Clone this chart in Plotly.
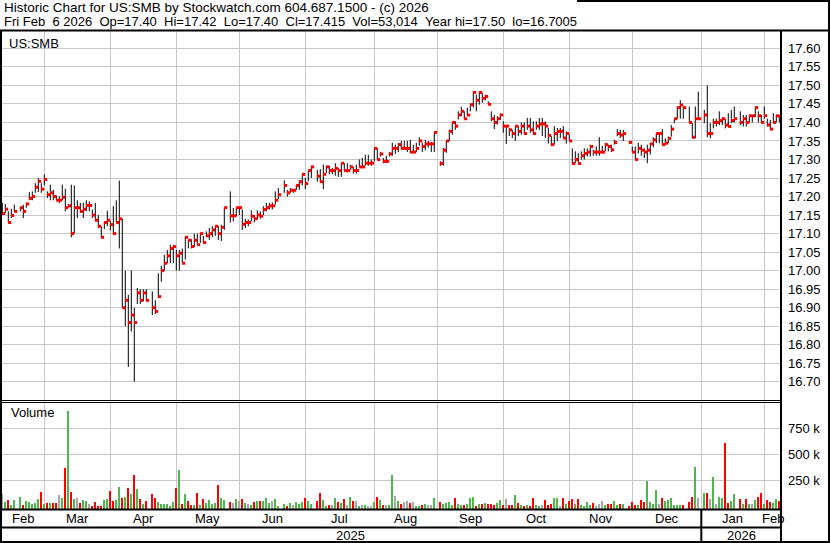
import pandas as pd
import plotly.graph_objects as go

W, H = 830, 543

# ---- data ----
first_day = '2025-02-10'
last_day = '2026-02-06'
holidays = ['2025-02-17', '2025-04-18', '2025-05-26', '2025-06-19', '2025-07-04',
            '2025-09-01', '2025-11-27', '2025-12-25', '2026-01-01', '2026-01-19']

highs = [
    # Feb 2025
    17.183, 17.180, 17.160, 17.167, 17.178, 17.173, 17.178, 17.184, 17.212, 17.214, 17.236, 17.250, 17.236, 17.260,
    # Mar
    17.214, 17.232, 17.218, 17.203, 17.200, 17.232, 17.221, 17.180, 17.232, 17.230, 17.190, 17.183, 17.183, 17.190,
    17.187, 17.165, 17.183, 17.150, 17.120, 17.133, 17.162,
    # Apr
    17.133, 17.174, 17.190, 17.243, 17.140, 17.000, 16.935, 17.000, 16.900, 16.953, 16.950, 16.950, 16.950, 16.944,
    16.920, 16.993, 17.013, 17.043, 17.056, 17.070, 17.070,
    # May
    17.056, 17.056, 17.060, 17.093, 17.083, 17.085, 17.100, 17.100, 17.100, 17.094, 17.106, 17.115, 17.120, 17.120,
    17.120, 17.124, 17.170, 17.214, 17.169, 17.170, 17.170,
    # Jun
    17.165, 17.140, 17.138, 17.163, 17.150, 17.163, 17.160, 17.174, 17.183, 17.183, 17.184, 17.214, 17.223, 17.244,
    17.218, 17.223, 17.220, 17.232, 17.245, 17.262,
    # Jul
    17.250, 17.270, 17.283, 17.272, 17.274, 17.286, 17.283, 17.283, 17.277, 17.290, 17.277, 17.290, 17.290, 17.290,
    17.286, 17.280, 17.286, 17.300, 17.304, 17.313, 17.313, 17.300,
    # Aug
    17.330, 17.330, 17.320, 17.304, 17.310, 17.320, 17.345, 17.340, 17.345, 17.350, 17.350, 17.350, 17.353, 17.340,
    17.345, 17.360, 17.345, 17.353, 17.350, 17.348, 17.375,
    # Sep
    17.295, 17.331, 17.350, 17.380, 17.400, 17.403, 17.430, 17.442, 17.430, 17.440, 17.450, 17.484, 17.475, 17.484,
    17.480, 17.475, 17.457, 17.430, 17.420, 17.417, 17.424,
    # Oct
    17.403, 17.390, 17.385, 17.380, 17.390, 17.390, 17.400, 17.400, 17.412, 17.412, 17.403, 17.403, 17.412, 17.412,
    17.403, 17.385, 17.363, 17.390, 17.385, 17.385, 17.390, 17.376, 17.367,
    # Nov
    17.330, 17.322, 17.317, 17.322, 17.330, 17.330, 17.340, 17.326, 17.335, 17.360, 17.337, 17.345, 17.340, 17.340,
    17.353, 17.382, 17.380, 17.380, 17.350,
    # Dec
    17.335, 17.335, 17.345, 17.340, 17.330, 17.340, 17.345, 17.360, 17.371, 17.371, 17.382, 17.357, 17.362, 17.393,
    17.410, 17.443, 17.460, 17.443, 17.443, 17.398, 17.443, 17.483,
    # Jan 2026
    17.434, 17.500, 17.398, 17.410, 17.410, 17.430, 17.414, 17.410, 17.425, 17.434, 17.443, 17.430, 17.420, 17.420,
    17.420, 17.420, 17.443, 17.430, 17.420, 17.443,
    # Feb
    17.410, 17.407, 17.425, 17.420, 17.420,
]

lows = [
    17.151, 17.156, 17.130, 17.142, 17.158, 17.160, 17.142, 17.170, 17.190, 17.190, 17.210, 17.212, 17.210, 17.230,
    17.196, 17.190, 17.190, 17.190, 17.183, 17.190, 17.160, 17.170, 17.090, 17.100, 17.142, 17.156, 17.142, 17.160,
    17.160, 17.142, 17.133, 17.115, 17.088, 17.112, 17.120,
    17.109, 17.097, 17.130, 17.060, 16.900, 16.850, 16.740, 16.836, 16.7005, 16.910, 16.910, 16.917, 16.917, 16.880,
    16.883, 16.926, 16.970, 17.000, 17.020, 17.020, 17.020,
    17.000, 17.000, 17.020, 17.030, 17.060, 17.060, 17.064, 17.070, 17.075, 17.075, 17.090, 17.083, 17.090, 17.094,
    17.083, 17.080, 17.110, 17.130, 17.133, 17.146, 17.150,
    17.110, 17.115, 17.120, 17.133, 17.130, 17.138, 17.140, 17.150, 17.160, 17.165, 17.165, 17.178, 17.193, 17.210,
    17.200, 17.210, 17.210, 17.218, 17.218, 17.230,
    17.220, 17.241, 17.250, 17.240, 17.237, 17.220, 17.263, 17.260, 17.260, 17.256, 17.253, 17.253, 17.268, 17.265,
    17.272, 17.262, 17.262, 17.280, 17.280, 17.283, 17.283, 17.283,
    17.295, 17.300, 17.308, 17.290, 17.290, 17.308, 17.310, 17.315, 17.320, 17.327, 17.330, 17.320, 17.318, 17.318,
    17.320, 17.337, 17.320, 17.325, 17.332, 17.320, 17.320,
    17.283, 17.283, 17.318, 17.350, 17.367, 17.380, 17.408, 17.417, 17.410, 17.417, 17.430, 17.440, 17.430, 17.448,
    17.453, 17.460, 17.448, 17.403, 17.382, 17.394, 17.406,
    17.372, 17.342, 17.363, 17.358, 17.350, 17.363, 17.367, 17.367, 17.380, 17.372, 17.367, 17.380, 17.380, 17.363,
    17.358, 17.343, 17.336, 17.340, 17.350, 17.358, 17.358, 17.343, 17.350,
    17.286, 17.290, 17.289, 17.300, 17.300, 17.308, 17.308, 17.310, 17.310, 17.310, 17.316, 17.322, 17.322, 17.320,
    17.340, 17.363, 17.358, 17.350, 17.342,
    17.318, 17.300, 17.316, 17.310, 17.304, 17.290, 17.313, 17.333, 17.344, 17.344, 17.340, 17.340, 17.344, 17.362,
    17.398, 17.410, 17.410, 17.410, 17.398, 17.357, 17.357, 17.410,
    17.398, 17.360, 17.357, 17.384, 17.389, 17.393, 17.393, 17.384, 17.389, 17.398, 17.400, 17.393, 17.389, 17.389,
    17.400, 17.400, 17.414, 17.400, 17.400, 17.410,
    17.389, 17.380, 17.398, 17.400, 17.400,
]

closes = [
    17.154, 17.166, 17.130, 17.149, 17.160, 17.170, 17.160, 17.180, 17.195, 17.200, 17.225, 17.241, 17.220, 17.246,
    17.205, 17.210, 17.200, 17.190, 17.190, 17.198, 17.170, 17.175, 17.100, 17.170, 17.170, 17.160, 17.166, 17.176,
    17.176, 17.150, 17.136, 17.120, 17.090, 17.130, 17.136,
    17.124, 17.100, 17.130, 17.140, 16.900, 16.920, 16.860, 16.880, 16.860, 16.940, 16.920, 16.940, 16.920, 16.900,
    16.890, 16.930, 17.000, 17.020, 17.040, 17.060, 17.065,
    17.040, 17.047, 17.020, 17.090, 17.082, 17.065, 17.082, 17.070, 17.100, 17.076, 17.094, 17.100, 17.110, 17.120,
    17.100, 17.117, 17.170, 17.148, 17.148, 17.170, 17.170,
    17.125, 17.130, 17.130, 17.147, 17.140, 17.150, 17.147, 17.165, 17.170, 17.175, 17.175, 17.190, 17.205, 17.230,
    17.210, 17.217, 17.217, 17.230, 17.240, 17.260,
    17.235, 17.270, 17.280, 17.255, 17.240, 17.260, 17.280, 17.270, 17.270, 17.276, 17.270, 17.290, 17.270, 17.270,
    17.280, 17.270, 17.270, 17.280, 17.280, 17.290, 17.290, 17.290,
    17.330, 17.300, 17.315, 17.295, 17.295, 17.315, 17.330, 17.330, 17.340, 17.330, 17.330, 17.330, 17.320, 17.320,
    17.330, 17.350, 17.335, 17.342, 17.342, 17.342, 17.373,
    17.289, 17.325, 17.350, 17.376, 17.400, 17.390, 17.420, 17.430, 17.410, 17.420, 17.448, 17.481, 17.460, 17.481,
    17.465, 17.470, 17.449, 17.410, 17.400, 17.410, 17.420,
    17.390, 17.390, 17.380, 17.370, 17.390, 17.376, 17.390, 17.370, 17.390, 17.380, 17.370, 17.390, 17.396, 17.396,
    17.390, 17.365, 17.340, 17.370, 17.376, 17.376, 17.358, 17.370, 17.350,
    17.289, 17.300, 17.289, 17.310, 17.316, 17.320, 17.335, 17.320, 17.320, 17.320, 17.320, 17.340, 17.335, 17.326,
    17.346, 17.370, 17.366, 17.370, 17.346,
    17.320, 17.300, 17.330, 17.325, 17.320, 17.325, 17.342, 17.353, 17.370, 17.370, 17.340, 17.344, 17.357, 17.382,
    17.410, 17.440, 17.447, 17.440, 17.400, 17.360, 17.410, 17.410,
    17.420, 17.370, 17.370, 17.400, 17.400, 17.405, 17.410, 17.393, 17.389, 17.405, 17.410, 17.400, 17.410, 17.400,
    17.418, 17.418, 17.440, 17.418, 17.400, 17.418,
    17.393, 17.382, 17.400, 17.418, 17.415,
]

# daily volume, thousands of shares
volume_k = [
    118, 38, 61, 13, 58, 90, 13, 51, 38, 26, 35, 70, 138, 26,
    32, 32, 29, 32, 109, 80, 368, 920, 138, 70, 80, 32, 61, 51, 22, 6, 42, 6, 6, 61, 74,
    147, 51, 61, 186, 83, 93, 176, 115, 301, 167, 70, 22, 51, 118, 80, 38, 26, 26, 19, 6, 42,
    176, 349, 22, 118, 51, 13, 16, 128, 13, 70, 32, 61, 22, 32, 205, 80, 58, 42, 32, 70, 51,
    70, 32, 26, 16, 42, 51, 51, 51, 80, 32, 51, 70, 3, 26, 6, 32, 13, 42, 22, 42,
    80, 51, 22, 51, 128, 61, 3, 13, 13, 80, 42, 32, 70, 13, 90, 51, 51, 3, 13, 13, 3, 3,
    42, 90, 61, 13, 13, 13, 301, 99, 51, 22, 42, 51, 32, 42, 3, 3, 13, 22, 13, 13, 80,
    42, 26, 32, 42, 13, 80, 22, 13, 13, 22, 80, 90, 3, 22, 26, 32, 22, 22, 13, 32, 61,
    13, 70, 13, 13, 109, 32, 13, 3, 13, 3, 80, 13, 3, 13, 61, 13, 22, 80, 80, 3, 80, 26, 51,
    70, 22, 70, 13, 3, 42, 13, 32, 3, 22, 51, 13, 22, 26, 51, 13, 22, 22, 1,
    42, 13, 13, 61, 42, 244, 42, 22, 157, 22, 80, 51, 61, 80, 13, 13, 13, 13, 42, 90, 378, 80,
    128, 128, 70, 282, 22, 90, 80, 609, 32, 51, 118, 70, 22, 70, 22, 22, 61, 90, 128, 22,
    61, 42, 32, 70, 53,
]

month_starts = ['2025-03-01', '2025-04-01', '2025-05-01', '2025-06-01', '2025-07-01', '2025-08-01',
                '2025-09-01', '2025-10-01', '2025-11-01', '2025-12-01', '2026-01-01', '2026-02-01']
month_labels = ['Feb', 'Mar', 'Apr', 'May', 'Jun', 'Jul', 'Aug', 'Sep', 'Oct', 'Nov', 'Dec', 'Jan', 'Feb']
year_labels = ['2025', '2026']
price_ticks = ['16.70', '16.75', '16.80', '16.85', '16.90', '16.95', '17.00', '17.05', '17.10', '17.15',
               '17.20', '17.25', '17.30', '17.35', '17.40', '17.45', '17.50', '17.55', '17.60']
volume_ticks = [250000, 500000, 750000]
volume_tick_text = ['250 k', '500 k', '750 k']

title_1 = 'Historic Chart for US:SMB by Stockwatch.com 604.687.1500 - (c) 2026'
title_2 = 'Fri Feb  6 2026  Op=17.40  Hi=17.42  Lo=17.40  Cl=17.415  Vol=53,014  Year hi=17.50  lo=16.7005'

# ---- weekday axis: one slot per weekday, holidays stay empty ----
weekdays = pd.bdate_range(first_day, last_day)
trading = weekdays[~weekdays.isin(pd.to_datetime(holidays))]
xpos = [int(weekdays.get_loc(d)) for d in trading]
assert len(xpos) == len(highs) == len(lows) == len(closes) == len(volume_k)

grid_idx = [int(weekdays.searchsorted(pd.Timestamp(d), side='right')) - 1 for d in month_starts]
year_idx = grid_idx[month_starts.index('2026-01-01')]

X_MIN, X_MAX = -0.1, 259.57
VOL_FLOOR = -30800
GRID = '#c8c8c8'
FONT = 'Liberation Sans, Arial, sans-serif'


def px(x):
    return x / W


def py(y):
    return 1 - y / H


fig = go.Figure()

# high-low bars
bx, by = [], []
for x, h, l in zip(xpos, highs, lows):
    bx += [x, x, None]
    by += [l, h, None]
fig.add_trace(go.Scatter(x=bx, y=by, mode='lines', line=dict(color='black', width=1),
                         hoverinfo='skip', xaxis='x', yaxis='y'))

# close ticks (red, right of the bar)
fig.add_trace(go.Scatter(x=[x + 0.45 for x in xpos], y=closes, mode='markers',
                         marker=dict(symbol='square', size=3, color='#ff0000', line=dict(width=0)),
                         xaxis='x', yaxis='y'))

# volume coloured by close change
vol_colors = ['#a8a8a8']
for prev, cur in zip(closes[:-1], closes[1:]):
    if cur > prev:
        vol_colors.append('#4cb84c')
    elif cur < prev:
        vol_colors.append('#ff0000')
    else:
        vol_colors.append('#a8a8a8')
fig.add_trace(go.Bar(x=xpos, y=[v * 1000 - VOL_FLOOR for v in volume_k], base=VOL_FLOOR,
                     marker=dict(color=vol_colors, line=dict(width=0)), width=0.68,
                     xaxis='x2', yaxis='y2'))

axis_common = dict(showline=False, zeroline=False, ticks='', fixedrange=True)
fig.update_layout(
    width=W, height=H,
    margin=dict(l=0, r=0, t=0, b=0, pad=0),
    paper_bgcolor='white', plot_bgcolor='white',
    showlegend=False, bargap=0,
    font=dict(family=FONT, size=13, color='black'),
    xaxis=dict(domain=[px(2), px(781)], range=[X_MIN, X_MAX], tickvals=grid_idx, showticklabels=False,
               showgrid=True, gridcolor=GRID, gridwidth=1, anchor='y', **axis_common),
    yaxis=dict(domain=[py(400), py(32)], range=[16.651, 17.644], side='right', anchor='x',
               tickvals=[float(t) for t in price_ticks], ticktext=price_ticks, ticklabelstandoff=6,
               showgrid=True, gridcolor=GRID, gridwidth=1, **axis_common),
    xaxis2=dict(domain=[px(2), px(781)], range=[X_MIN, X_MAX], tickvals=grid_idx, showticklabels=False,
                showgrid=True, gridcolor=GRID, gridwidth=1, anchor='y2', **axis_common),
    yaxis2=dict(domain=[py(509.5), py(402)], range=[VOL_FLOOR, 1003000], side='right', anchor='x2',
                tickvals=volume_ticks, ticktext=volume_tick_text, ticklabelstandoff=6,
                showgrid=True, gridcolor=GRID, gridwidth=1, **axis_common),
)


# frame lines
def hline(y, x0, x1, w=2):
    return dict(type='line', xref='paper', yref='paper', x0=px(x0), x1=px(x1), y0=py(y), y1=py(y),
                line=dict(color='black', width=w), layer='above')


def vline(x, y0, y1, w=2):
    return dict(type='line', xref='paper', yref='paper', x0=px(x), x1=px(x), y0=py(y0), y1=py(y1),
                line=dict(color='black', width=w), layer='above')


year_px = 2.3 + 3 * year_idx
fig.update_layout(shapes=[
    hline(1, 577, 830), hline(30.5, 0, 830), hline(542, 0, 830),
    vline(1, 30, 543), vline(781, 30, 543), vline(829, 0, 543),
    hline(400.5, 0, 781, 1), hline(402.5, 0, 781, 1),
    hline(509.5, 0, 781), hline(527.5, 0, 781),
    vline(year_px, 509, 543),
])

# texts
ann = [
    dict(text=title_1, x=px(2), y=py(8), size=13.5),
    dict(text=title_2.replace('  ', ' \u00a0'), x=px(2), y=py(21), size=13),
    dict(text='US:SMB', x=px(7), y=py(43), size=13),
    dict(text='Volume', x=px(9), y=py(413), size=13),
]
for a in ann:
    a.update(xref='paper', yref='paper', xanchor='left', yanchor='middle', showarrow=False,
             font=dict(family=FONT, size=a.pop('size'), color='black'))

bounds = [X_MIN] + grid_idx + [X_MAX]
for name, a, b in zip(month_labels, bounds[:-1], bounds[1:]):
    ann.append(dict(text=name, x=(a + b) / 2, xref='x2', y=py(518.5), yref='paper',
                    xanchor='center', yanchor='middle', showarrow=False,
                    font=dict(family=FONT, size=13, color='black')))
ybounds = [-0.77, year_idx, X_MAX]
for name, a, b in zip(year_labels, ybounds[:-1], ybounds[1:]):
    ann.append(dict(text=name, x=(a + b) / 2, xref='x2', y=py(535), yref='paper',
                    xanchor='center', yanchor='middle', showarrow=False,
                    font=dict(family=FONT, size=13, color='black')))
fig.update_layout(annotations=ann)

# the page body has a default 8px margin; drop it so the chart sits at the window corner
fig.write_html("out.html", config={'displayModeBar': False},
               post_script="document.body.style.margin='0';")
